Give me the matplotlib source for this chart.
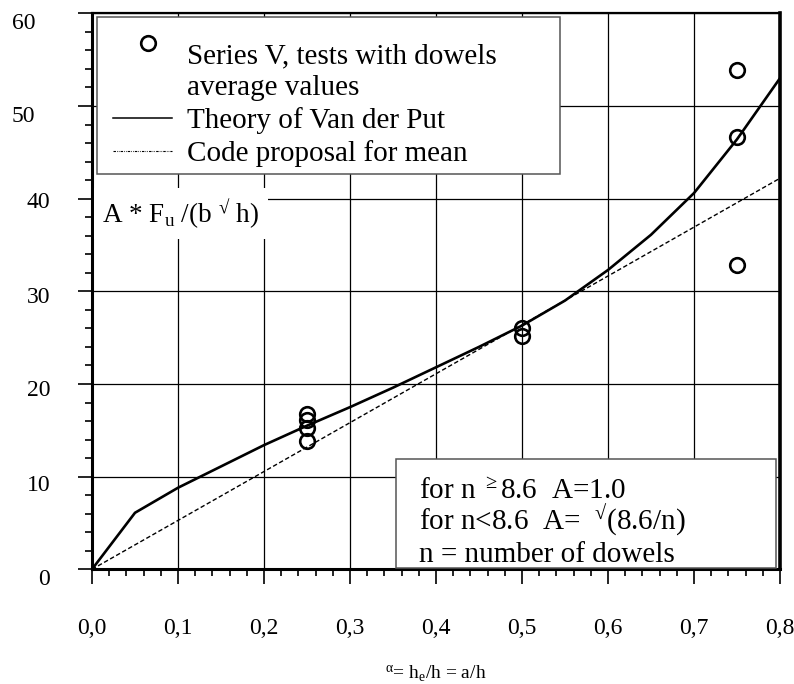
import numpy as np
import matplotlib
matplotlib.use("Agg")
import matplotlib.pyplot as plt
from matplotlib.lines import Line2D
from matplotlib.patches import Rectangle
from matplotlib.legend_handler import HandlerLine2D
from matplotlib.transforms import ScaledTranslation

plt.rcParams['font.family'] = ['Liberation Serif', 'DejaVu Serif']
plt.rcParams['mathtext.fontset'] = 'custom'
plt.rcParams['mathtext.rm'] = 'Liberation Serif'
plt.rcParams['mathtext.it'] = 'Liberation Serif:italic'
plt.rcParams['mathtext.bf'] = 'Liberation Serif:bold'

# ---------------- data ----------------
theory_x = [0.0, 0.05, 0.10, 0.15, 0.20, 0.25, 0.30, 0.35, 0.40, 0.45,
            0.50, 0.55, 0.60, 0.65, 0.70, 0.75, 0.80]
theory_y = [0.0, 6.1, 8.8, 11.1, 13.4, 15.5, 17.5, 19.6, 21.8, 24.0,
            26.3, 29.0, 32.3, 36.1, 40.6, 46.4, 53.0]
code_x = [0.0, 0.8]
code_y = [0.0, 42.2]
test_x = [0.25, 0.25, 0.25, 0.25, 0.50, 0.50, 0.75, 0.75, 0.75]
test_y = [16.8, 16.1, 15.2, 13.8, 26.0, 25.2, 53.9, 46.6, 32.8]

xticks = [0.0, 0.1, 0.2, 0.3, 0.4, 0.5, 0.6, 0.7, 0.8]
xticklabels = ["0,0", "0,1", "0,2", "0,3", "0,4", "0,5", "0,6", "0,7", "0,8"]
yticks = [0, 10, 20, 30, 40, 50, 60]
yticklabels = ["0", "10", "20", "30", "40", "50", "60"]

legend_labels = ["Series V, tests with dowels\naverage values",
                 "Theory of Van der Put",
                 "Code proposal for mean"]
ylabel_text = r"A * F$_{\mathrm{u}}$ /(b $^{√}$ h)"
xlabel_text = r"$^{\mathrm{\alpha}}$= h$_{\mathrm{e}}$/h = a/h"
note_lines = [r"for n $^{\geq}$8.6  A=1.0",
              r"for n<8.6  A=  $^{√}$(8.6/n)",
              "n = number of dowels"]

# ---------------- figure ----------------
W, H = 794, 684
PX = 72 / 100  # points per pixel
fig = plt.figure(figsize=(W / 100, H / 100), dpi=100)
L, R, T, B = 92, 780, 13.3, 569.3
ax = fig.add_axes([L / W, 1 - B / H, (R - L) / W, (B - T) / H])

ax.plot(theory_x, theory_y, color='k', lw=1.9, zorder=3)
ax.plot(code_x, code_y, color='k', lw=1.0, dashes=(3.2, 1.8), zorder=3)
pts, = ax.plot(test_x, test_y, linestyle='none', marker='o', mfc='none',
               mec='k', ms=10.5, mew=1.9, zorder=4)

ax.set_xlim(0, 0.8)
ax.set_ylim(0, 60)
ax.set_xticks(xticks)
ax.set_xticklabels(xticklabels, fontsize=17)
ax.set_yticks(yticks)
ax.set_yticklabels(yticklabels, fontsize=17)
ax.set_xticks(np.arange(0, 0.8001, 0.02), minor=True)
ax.set_yticks(np.arange(0, 60.001, 2), minor=True)
ax.tick_params(axis='x', which='major', direction='out', length=11, width=1.2, pad=24)
ax.tick_params(axis='x', which='minor', direction='out', length=5, width=1.2)
ax.tick_params(axis='y', which='major', direction='out', length=10, width=1.2, pad=20)
ax.tick_params(axis='y', which='minor', direction='out', length=5, width=1.2)

ax.grid(True, which='major', color='k', lw=0.9, zorder=1)
for side, lw in (('left', 2.2), ('bottom', 2.2), ('top', 1.6), ('right', 2.6)):
    ax.spines[side].set_linewidth(lw)

# per-label offsets of y tick labels (pixels)
yoff = {"60": (-15, -7.5), "50": (-15, -8), "40": (0, -1), "30": (0, -4),
        "20": (0, -4), "10": (0, -6.5), "0": (0, -8)}
for lab in ax.get_yticklabels():
    dx, dy = yoff.get(lab.get_text(), (0, 0))
    lab.set_transform(lab.get_transform() +
                      ScaledTranslation(dx / 100, dy / 100, fig.dpi_scale_trans))

ax.set_xlabel(xlabel_text, fontsize=14, labelpad=18)

ax.text((102 - L) / (R - L), (B - 223) / (B - T), ylabel_text, fontsize=19.5,
        transform=ax.transAxes, va='baseline', ha='left', zorder=5,
        bbox=dict(facecolor='white', edgecolor='none', pad=6))

# ---------------- legend ----------------
class ShiftedHandler(HandlerLine2D):
    """Line handler that trims the sample's left end and shifts markers."""
    def __init__(self, trim=0.0, dx=0.0, dy=0.0, **kw):
        super().__init__(**kw)
        self.trim, self.dx, self.dy = trim, dx, dy

    def create_artists(self, legend, orig_handle, xdescent, ydescent,
                       width, height, fontsize, trans):
        arts = super().create_artists(legend, orig_handle, xdescent, ydescent,
                                      width, height, fontsize, trans)
        for a in arts:
            x = np.asarray(a.get_xdata(), dtype=float)
            x0, x1 = x.min() + self.trim, x.max()
            a.set_xdata(np.linspace(x0, x1, len(x)) + self.dx)
            a.set_ydata(np.asarray(a.get_ydata(), dtype=float) + self.dy)
        return arts

theory_proxy = Line2D([], [], color='k', lw=1.1)
code_proxy = Line2D([], [], color='k', lw=0.8, dashes=(2.2, 1.0, 0.6, 1.0, 0.6, 1.0))
leg_l, leg_r, leg_t, leg_b = 97, 560, 17, 173
leg = ax.legend([pts, theory_proxy, code_proxy], legend_labels,
                loc='upper left',
                bbox_to_anchor=((leg_l - L) / (R - L), (B - leg_b) / (B - T),
                                (leg_r - leg_l) / (R - L), (leg_b - leg_t) / (B - T)),
                mode='expand', borderaxespad=0, fontsize=21, numpoints=1,
                handlelength=2.33, handletextpad=0.5, borderpad=0.25,
                labelspacing=0.2, fancybox=False, framealpha=1,
                edgecolor='#555555', title=" ", title_fontsize=11,
                handler_map={pts: ShiftedHandler(trim=9 * PX, dx=5 * PX, dy=29 * PX),
                             theory_proxy: ShiftedHandler(trim=9 * PX),
                             code_proxy: ShiftedHandler(trim=9 * PX)})
leg.get_frame().set_linewidth(1.1)
leg.set_zorder(6)
leg.get_texts()[0].set_linespacing(1.3)

# ---------------- note box ----------------
bx0, bx1, by0, by1 = 396, 776, 568, 459
ax.add_patch(Rectangle(((bx0 - L) / (R - L), (B - by0) / (B - T)),
                       (bx1 - bx0) / (R - L), (by0 - by1) / (B - T),
                       transform=ax.transAxes, facecolor='white',
                       edgecolor='#555555', lw=1.1, zorder=5))
for line, base in zip(note_lines, [499, 530, 562]):
    ax.text((419 - L) / (R - L), (B - base) / (B - T), line, fontsize=21,
            transform=ax.transAxes, va='baseline', ha='left', zorder=6)

fig.savefig("out.png", dpi=100)
